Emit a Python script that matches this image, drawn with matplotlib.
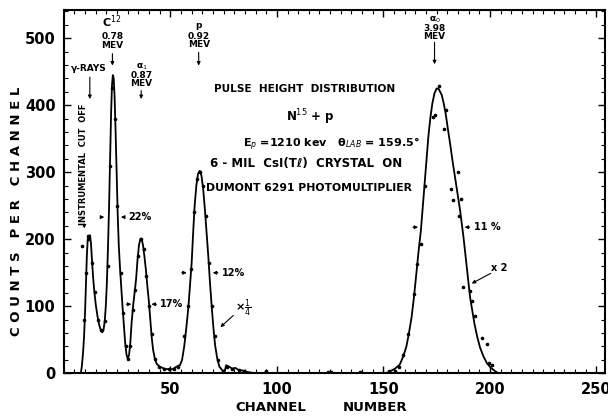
import numpy as np
import matplotlib.pyplot as plt
from matplotlib.ticker import MultipleLocator

# fitted curve through the pulse height spectrum (channel, counts per channel)
curve_ch = [0, 8, 8.5, 9, 9.5, 10, 10.4, 10.8, 11.2, 11.5, 11.9, 12.3, 12.7, 13.2, 13.7,
            14.3, 15, 15.8, 16.6, 17.4, 18, 18.6, 19.2, 19.7, 20.2, 20.7, 21.2, 21.7, 22.2,
            22.6, 23, 23.4, 23.8, 24.3, 24.8, 25.3, 25.8, 26.4, 27, 27.6, 28.2, 28.8, 29.4,
            30, 30.6, 31.2, 31.8, 32.5, 33.2, 33.9, 34.6, 35.3, 36, 36.6, 37.2, 37.8, 38.5,
            39.2, 39.9, 40.6, 41.2, 41.9, 42.7, 43.6, 45, 47, 49, 51, 52.5, 53.5, 54.5, 55.5,
            56.5, 57.5, 58.5, 59.3, 60, 60.7, 61.4, 62.2, 63, 63.8, 64.6, 65.4, 66.2, 67,
            67.8, 68.6, 69.4, 70.2, 71, 72, 73, 74.5, 75.5, 76.2, 77.5, 79, 80.5, 82, 84, 86,
            88, 90, 94, 95, 96, 150, 152, 153.8, 155.5, 157.7, 159.3, 160.8, 162, 163.2,
            164.4, 165.6, 166.6, 167.6, 168.4, 169.2, 170.2, 171.1, 172, 173, 174, 175, 176,
            177.4, 178.3, 179.2, 180.2, 181.3, 182.4, 183.6, 184.8, 186, 186.8, 187.6, 188.4,
            189.2, 190, 190.7, 191.8, 192.8, 194, 195.4, 197, 198.6, 200.5, 202.5, 204, 254]
curve_counts = [0, 0, 12, 30, 55, 95, 135, 175, 200, 205, 198, 206, 195, 170, 145,
                122, 102, 85, 72, 64, 61, 64, 78, 100, 135, 185, 245, 320, 390,
                430, 445, 440, 415, 360, 295, 235, 190, 155, 125, 97, 70, 45, 28,
                22, 27, 45, 75, 100, 120, 140, 170, 192, 201, 200, 190, 175, 155,
                130, 108, 80, 55, 35, 22, 14, 10, 7, 6, 6, 9, 11, 12, 20,
                40, 68, 100, 135, 165, 210, 250, 280, 298, 302, 295, 275, 245, 210,
                175, 135, 100, 68, 42, 22, 10, 4, 3, 12, 10, 7, 8, 5, 4, 2,
                1, 0, 0, 3, 0, 0, 1, 4, 7, 13, 25, 40, 60, 83,
                115, 153, 185, 213, 245, 278, 318, 353, 380, 403, 418, 425, 424,
                415, 403, 388, 366, 343, 318, 293, 268, 243, 223, 203, 180,
                158, 135, 113, 92, 73, 55, 38, 25, 15, 8, 3, 0, 0]

# measured points
pts_ch = [8.3, 9.6, 10.6, 11.5, 13.0, 14.4, 16.0, 17.6, 19.2, 20.5, 21.6, 22.6, 24.0,
          25.0, 26.6, 27.9, 29.0, 30.0, 31.0, 32.4, 33.6, 34.9, 36.0, 37.4, 38.7, 40.0,
          41.2, 42.6, 44.5, 47, 49.5, 51.5, 53.5, 56.5, 58.3, 59.6, 61.0, 62.5, 64.0,
          65.3, 66.6, 68.0, 69.4, 70.8, 72.3, 74.5, 76.5, 79, 82, 84.5, 95, 124, 125.5,
          139, 152.5, 155.4, 157.5, 159.3, 161.7, 164.5, 166, 167.6, 169.5, 173.4, 174.2,
          176, 178.6, 179.4, 181.7, 182.5, 184.9, 185.5, 186.5, 187.2, 190.7, 191.5,
          193.1, 196.2, 198.6, 199.4, 201]
pts_counts = [190, 80, 150, 205, 165, 122, 80, 64, 78, 160, 310, 425, 380,
              250, 150, 90, 40, 22, 40, 95, 125, 175, 200, 185, 145, 100,
              58, 22, 10, 7, 6, 7, 10, 55, 100, 155, 240, 290, 300,
              280, 235, 165, 100, 55, 20, 4, 10, 7, 5, 4, 3, 2, 2,
              2, 3, 3, 10, 28, 58, 118, 163, 193, 279, 383, 385,
              428, 365, 393, 275, 259, 300, 235, 260, 129, 123, 108,
              85, 53, 43, 15, 12]

xticks = [50, 100, 150, 200, 250]
yticks = [0, 100, 200, 300, 400, 500]

fig = plt.figure(figsize=(6.08, 4.18), dpi=100)
ax = fig.add_axes([0.105, 0.107, 0.89, 0.869])

ax.plot(curve_ch, curve_counts, color='black', lw=1.3)
ax.plot(pts_ch, pts_counts, 'o', color='black', ms=1.6)

ax.set_xlim(0, 254)
ax.set_ylim(0, 542)
ax.set_xticks(xticks)
ax.set_yticks(yticks)
ax.xaxis.set_minor_locator(MultipleLocator(5))
ax.yaxis.set_minor_locator(MultipleLocator(20))
ax.tick_params(which='both', direction='in', top=True, right=True)
ax.tick_params(which='major', length=5, width=1.0, labelsize=10.5, pad=6)
ax.tick_params(which='minor', length=3, width=0.8)
ax.tick_params(axis='y', which='both', right=True, labelright=False)
for lab in ax.get_xticklabels() + ax.get_yticklabels():
    lab.set_fontweight('bold')
for s in ax.spines.values():
    s.set_linewidth(1.5)

fig.text(0.027, 0.495, 'C O U N T S   P E R   C H A N N E L', rotation=90, ha='center',
         va='center', fontsize=9.5, fontweight='bold')
fig.text(271 / 608, 0.024, 'CHANNEL', ha='center', va='center',
         fontsize=9.5, fontweight='bold')
fig.text(375 / 608, 0.024, 'NUMBER', ha='center', va='center',
         fontsize=9.5, fontweight='bold')

tk = dict(ha='center', va='center', fontsize=6.5, fontweight='bold')
arr = dict(arrowstyle='-|>', color='black', lw=0.8, mutation_scale=5)

# peak labels with arrows
ax.text(11.8, 455, 'γ-RAYS', **tk)
ax.annotate('', xy=(12.2, 405), xytext=(12.2, 446), arrowprops=arr)
ax.text(22.5, 524, 'C$^{12}$', ha='center', va='center', fontsize=8, fontweight='bold')
ax.text(22.7, 503, '0.78', **tk)
ax.text(22.7, 489, 'MEV', **tk)
ax.annotate('', xy=(22.8, 455), xytext=(22.8, 481), arrowprops=arr)
ax.text(36.4, 458, 'α$_1$', **tk)
ax.text(36.4, 445, '0.87', **tk)
ax.text(36.4, 432, 'MEV', **tk)
ax.annotate('', xy=(36.3, 405), xytext=(36.3, 426), arrowprops=arr)
ax.text(63.3, 519, 'p', **tk)
ax.text(63.3, 503, '0.92', **tk)
ax.text(63.3, 490, 'MEV', **tk)
ax.annotate('', xy=(63.3, 455), xytext=(63.3, 483), arrowprops=arr)
ax.text(174, 528, 'α$_0$', **tk)
ax.text(174, 515, '3.98', **tk)
ax.text(174, 503, 'MEV', **tk)
ax.annotate('', xy=(174, 457), xytext=(174, 498), arrowprops=arr)

ax.text(9.0, 312, 'INSTRUMENTAL  CUT  OFF', rotation=90, ha='center', va='center',
        fontsize=6, fontweight='bold')
ax.annotate('', xy=(9.6, 212), xytext=(9.6, 224), arrowprops=arr)

# FWHM markers
def fwhm(y, x_left, x_right, label, dx=5):
    ax.annotate('', xy=(x_left, y), xytext=(x_left - dx, y), arrowprops=arr)
    ax.annotate('', xy=(x_right, y), xytext=(x_right + dx, y), arrowprops=arr)
    ax.text(x_right + dx + 0.5, y, label, ha='left', va='center', fontsize=7,
            fontweight='bold')

fwhm(233, 20.3, 25.5, '22%', dx=4)
fwhm(103, 33.0, 39.8, '17%')
fwhm(150, 59.0, 68.6, '12%')
fwhm(218, 167.6, 186.8, '11 %')

ax.text(84, 97, '×$\\frac{1}{4}$', ha='center', va='center', fontsize=8, fontweight='bold')
ax.annotate('', xy=(72.5, 66), xytext=(80.5, 89), arrowprops=arr)
ax.text(204.5, 157, 'x 2', ha='center', va='center', fontsize=7, fontweight='bold')
ax.annotate('', xy=(190.3, 132), xytext=(201.5, 151), arrowprops=arr)

# run conditions
info = dict(ha='center', va='center', fontsize=8.5, fontweight='bold')
ax.text(113, 424, 'PULSE  HEIGHT  DISTRIBUTION', fontsize=7.6,
        ha='center', va='center', fontweight='bold')
ax.text(115.5, 382, 'N$^{15}$ + p', **info)
ax.text(125.5, 342, 'E$_p$ =1210 kev   θ$_{LAB}$ = 159.5°', fontsize=8,
        ha='center', va='center', fontweight='bold')
ax.text(113.5, 313, '6 - MIL  CsI(Tℓ)  CRYSTAL  ON', **info)
ax.text(115, 277, 'DUMONT 6291 PHOTOMULTIPLIER', fontsize=7.8,
        ha='center', va='center', fontweight='bold')

fig.savefig('out.png', dpi=100)
